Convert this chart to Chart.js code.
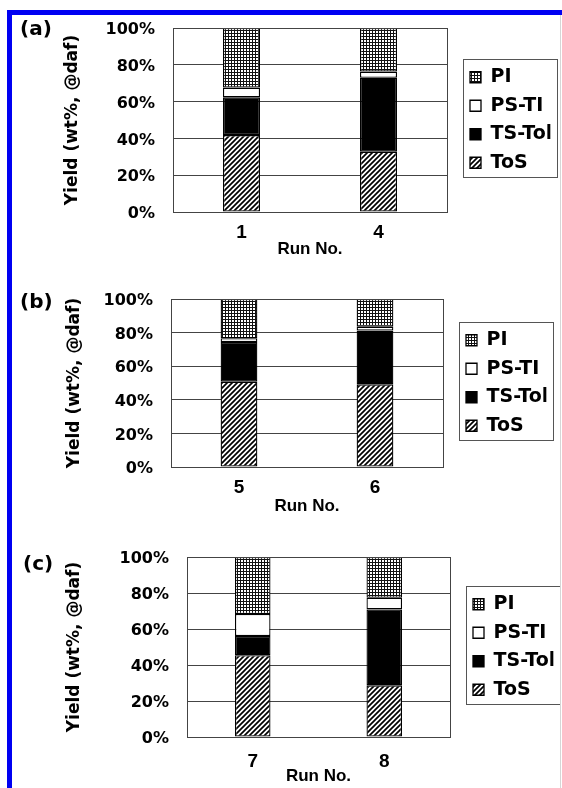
<!DOCTYPE html>
<html>
<head>
<meta charset="utf-8">
<script src="https://cdn.jsdelivr.net/npm/chart.js@4.4.1/dist/chart.umd.min.js"></script>
<style>
  body { margin: 0; background: #fff; width: 562px; height: 788px; overflow: hidden; position: relative; }
  canvas { position: absolute; left: 0; }
  .tag { position: absolute; font: bold 20px "DejaVu Sans", sans-serif; line-height: 20px; color: #000; }
  .blue { position: absolute; background: #0000f2; }
</style>
</head>
<body>
<canvas id="chartA" width="562" height="250" style="top:15px"></canvas>
<canvas id="chartB" width="562" height="255" style="top:265px"></canvas>
<canvas id="chartC" width="562" height="268" style="top:520px"></canvas>

<div class="tag" style="left:20px;top:18px">(a)</div>
<div class="tag" style="left:20px;top:291px">(b)</div>
<div class="tag" style="left:23px;top:553px">(c)</div>

<div class="blue" style="left:7px;top:10px;width:555px;height:5px"></div>
<div class="blue" style="left:7px;top:10px;width:5px;height:778px"></div>
<div style="position:absolute;left:560px;top:15px;width:1px;height:773px;background:#d6d6d6"></div>

<script>
// series names, bottom to top of each stack
const seriesNames = ['ToS', 'TS-Tol', 'PS-TI', 'PI'];
const yTicks = [0, 20, 40, 60, 80, 100];

// (a)
const runsA = ['1', '4'];
const tosA = [41.8, 32.8];
const tsTolA = [20.5, 40.2];
const psTiA = [5.3, 3.3];
const piA = [32.4, 23.7];

// (b)
const runsB = ['5', '6'];
const tosB = [50.8, 49.2];
const tsTolB = [23.6, 32.0];
const psTiB = [2.2, 2.3];
const piB = [23.4, 16.5];

// (c)
const runsC = ['7', '8'];
const tosC = [45.4, 28.7];
const tsTolC = [10.7, 42.2];
const psTiC = [12.2, 6.5];
const piC = [31.7, 22.6];

// fill patterns
function crossPattern() {
  var c = document.createElement('canvas');
  c.width = 3; c.height = 3;
  var g = c.getContext('2d');
  g.fillStyle = '#fff'; g.fillRect(0, 0, 3, 3);
  g.fillStyle = '#111';
  g.fillRect(0, 0, 3, 1);
  g.fillRect(0, 0, 1, 3);
  return g.createPattern(c, 'repeat');
}
function diagPattern() {
  var s = 5;
  var c = document.createElement('canvas');
  c.width = s; c.height = s;
  var g = c.getContext('2d');
  g.fillStyle = '#fff'; g.fillRect(0, 0, s, s);
  g.strokeStyle = '#000'; g.lineWidth = 1.7;
  g.beginPath();
  g.moveTo(0, s); g.lineTo(s, 0);
  g.moveTo(-1, 1); g.lineTo(1, -1);
  g.moveTo(s - 1, s + 1); g.lineTo(s + 1, s - 1);
  g.stroke();
  return g.createPattern(c, 'repeat');
}
var fills = [diagPattern(), '#000', '#fff', crossPattern()];

// frame round the plot, shifted legend and the box round it
var framePlugin = {
  id: 'frame',
  afterLayout: function(chart) {
    var lg = chart.legend;
    lg.left += 13.5;
    lg.right += 13.5;
  },
  afterDatasetsDraw: function(chart) {
    var a = chart.chartArea, ctx = chart.ctx;
    ctx.save();
    ctx.strokeStyle = '#444';
    ctx.lineWidth = 1;
    ctx.strokeRect(Math.round(a.left) + 0.5, Math.round(a.top) + 0.5,
      Math.round(a.right - a.left), Math.round(a.bottom - a.top));
    ctx.restore();
  },
  afterDraw: function(chart) {
    var boxes = chart.legend.legendHitBoxes;
    if (!boxes || !boxes.length) return;
    var first = boxes[0], last = boxes[boxes.length - 1];
    var ctx = chart.ctx;
    var x = Math.round(first.left - 7) + 0.5;
    var y1 = Math.round(first.top + first.height / 2 - 18) + 0.5;
    var y2 = Math.round(last.top + last.height / 2 + 14) + 0.5;
    ctx.save();
    ctx.strokeStyle = '#555';
    ctx.lineWidth = 1;
    ctx.strokeRect(x, y1, 94, y2 - y1);
    ctx.restore();
  }
};

Chart.defaults.color = '#000';

function makeChart(id, runs, tos, tsTol, psTi, pi, geo) {
  var values = [tos, tsTol, psTi, pi];
  var ctx = document.getElementById(id).getContext('2d');
  return new Chart(ctx, {
    type: 'bar',
    data: {
      labels: runs,
      datasets: seriesNames.map(function(name, i) {
        return {
          label: name,
          data: values[i],
          backgroundColor: fills[i],
          borderColor: '#000',
          borderWidth: 1.3,
          borderSkipped: false,
          barPercentage: 0.27,
          categoryPercentage: 1
        };
      })
    },
    options: {
      responsive: false,
      animation: false,
      layout: { padding: { left: geo.padLeft, right: geo.padRight, top: geo.padTop, bottom: geo.padBottom } },
      scales: {
        x: {
          stacked: true,
          grid: { display: false, drawTicks: false },
          border: { display: true, color: '#444' },
          ticks: { padding: geo.xTickPad, font: { family: 'Liberation Sans', weight: 'bold', size: 19 } },
          title: { display: true, text: 'Run No.', padding: 0,
                   font: { family: 'Liberation Sans', weight: 'bold', size: 17 } },
          afterFit: function(scale) { scale.height = geo.xHeight; }
        },
        y: {
          stacked: true,
          min: 0,
          max: 100,
          // invisible tick marks give the gap between labels and plot
          grid: { color: '#444', drawTicks: true, tickLength: 18, tickColor: 'rgba(0,0,0,0)' },
          border: { display: true, color: '#444' },
          afterBuildTicks: function(scale) { scale.ticks = yTicks.map(function(v) { return { value: v }; }); },
          ticks: {
            padding: 0,
            labelOffset: 2,
            font: { family: 'DejaVu Sans', weight: 'bold', size: 16 },
            callback: function(v) { return v + '%'; }
          },
          title: { display: true, text: 'Yield (wt%, @daf)', padding: 0,
                   font: { family: 'DejaVu Sans', weight: 'bold', size: 17 } },
          afterFit: function(scale) { scale.width = geo.yWidth; }
        }
      },
      plugins: {
        legend: {
          position: 'right',
          fullSize: false,
          reverse: true,
          maxWidth: 90,
          labels: {
            boxWidth: 11,
            boxHeight: 11,
            padding: 9.5,
            color: '#000',
            font: { family: 'DejaVu Sans', weight: 'bold', size: 19 }
          }
        },
        tooltip: { enabled: false }
      }
    },
    plugins: [framePlugin]
  });
}

makeChart('chartA', runsA, tosA, tsTolA, psTiA, piA,
  { padLeft: 62.8, padRight: 25, padTop: 13, padBottom: 5.4, yWidth: 110.2, xHeight: 47.6, xTickPad: 9.6 });
makeChart('chartB', runsB, tosB, tsTolB, psTiB, piB,
  { padLeft: 64.8, padRight: 29, padTop: 34, padBottom: 3.4, yWidth: 106.2, xHeight: 49.6, xTickPad: 9.6 });
makeChart('chartC', runsC, tosC, tsTolC, psTiC, piC,
  { padLeft: 64.8, padRight: 22, padTop: 37, padBottom: 1.7, yWidth: 122.2, xHeight: 49.3, xTickPad: 13.6 });
</script>
</body>
</html>
